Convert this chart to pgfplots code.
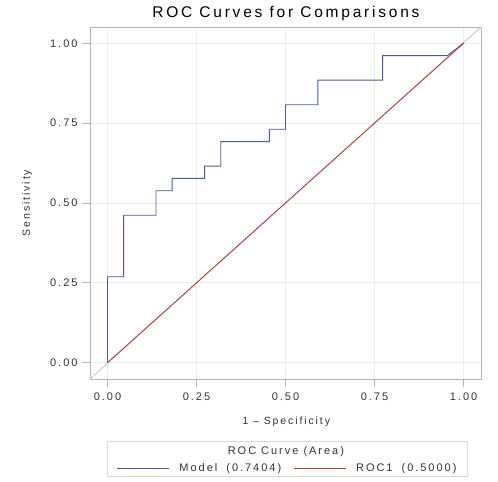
\documentclass[border=0pt]{standalone}
\usepackage{fontspec}
\setmainfont{Liberation Sans}[LetterSpace=18]
\usepackage{pgfplots}
\pgfplotsset{compat=1.18}
\definecolor{sasblue}{HTML}{4A5A9A}
\definecolor{sasred}{HTML}{A8483C}
\definecolor{framegray}{HTML}{B4B4B4}
\definecolor{gridgray}{HTML}{ECECEC}
\definecolor{txt}{HTML}{333333}
\begin{document}
\begin{tikzpicture}[x=1bp,y=1bp]
\path[use as bounding box] (0,0) rectangle (498,482);
\begin{axis}[
  at={(90bp,103bp)}, anchor=south west,
  scale only axis, width=391bp, height=352bp,
  xmin=-0.049, xmax=1.049, ymin=-0.051, ymax=1.051,
  xtick={0,0.25,0.5,0.75,1}, ytick={0,0.25,0.5,0.75,1},
  xticklabels={0.00,0.25,0.50,0.75,1.00},
  yticklabels={0.00,0.25,0.50,0.75,1.00},
  tick align=outside, major tick length=8bp,
  tick style={framegray, line width=0.8bp},
  xtick pos=bottom, ytick pos=left,
  axis line style={framegray, line width=0.9bp},
  grid=major, major grid style={gridgray, line width=0.8bp},
  tick label style={font=\fontsize{11bp}{13bp}\selectfont, text=txt},
  /pgf/number format/assume math mode=true,
  xticklabel style={yshift=-2bp},
  yticklabel style={xshift=-1bp},
  title={ROC Curves for Comparisons},
  every axis title/.style={at={(axis description cs:0.501,1.039)}, anchor=center, font=\fontsize{15.5bp}{17bp}\selectfont\addfontfeatures{LetterSpace=18}, text=black},
  xlabel={1 {\addfontfeatures{LetterSpace=0}–} Specificity},
  xlabel style={at={(axis description cs:0.502,-0.122)}, anchor=center, font=\fontsize{10.5bp}{13bp}\selectfont, text=txt},
  ylabel={Sensitivity},
  ylabel style={at={(axis description cs:-0.161,0.5)}, anchor=center, font=\fontsize{10.5bp}{13bp}\selectfont, text=txt},
  clip=false,
  legend columns=2,
  legend style={at={(axis description cs:0.5026,-0.2528)}, anchor=center, draw=none, fill=none,
    font=\fontsize{11bp}{13bp}\selectfont, text=txt,
    nodes={inner sep=0pt},
    /tikz/every odd column/.append style={column sep=10bp},
    /tikz/every even column/.append style={column sep=12bp}},
  legend image code/.code={\draw[#1] (0bp,0bp) -- (52bp,0bp);},
]
\addplot[framegray!80, line width=0.8bp, forget plot] coordinates {(-0.049,-0.051) (1.049,1.051)};
\addplot[sasblue, line width=0.9bp] coordinates {
(0,0) (0,0.26923) (0.04545,0.26923) (0.04545,0.46154) (0.13636,0.46154) (0.13636,0.53846)
(0.18182,0.53846) (0.18182,0.57692) (0.27273,0.57692) (0.27273,0.61538) (0.31818,0.61538)
(0.31818,0.69231) (0.45455,0.69231) (0.45455,0.73077) (0.5,0.73077) (0.5,0.80769)
(0.59091,0.80769) (0.59091,0.88462) (0.77273,0.88462) (0.77273,0.96154) (0.95455,0.96154) (1,1)};
\addlegendentry{Model\hspace*{9bp}(0.7404)}
\addplot[sasred, line width=0.9bp] coordinates {(0,0) (1,1)};
\addlegendentry{ROC1\hspace*{9bp}(0.5000)}
\node[anchor=center, font=\fontsize{11bp}{13bp}\selectfont, text=txt] at (axis description cs:0.501,-0.2065) {ROC Curve (Area)};
\end{axis}
\draw[gridgray!70!framegray, line width=0.8bp] (107,5.3) rectangle (467,41);
\end{tikzpicture}
\end{document}
